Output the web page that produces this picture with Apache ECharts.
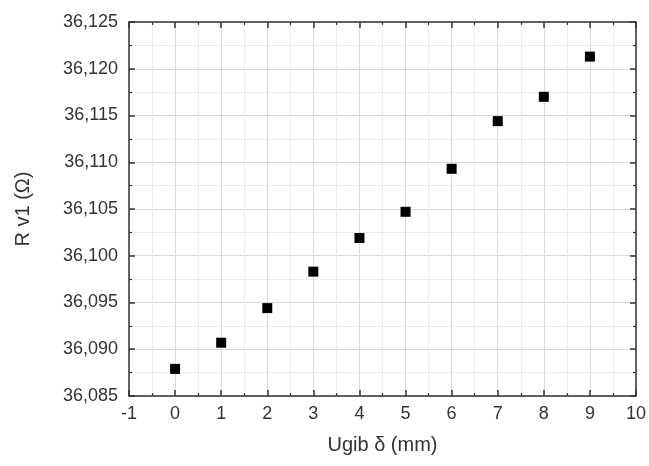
<!DOCTYPE html>
<html>
<head>
<meta charset="utf-8">
<script src="https://cdn.jsdelivr.net/npm/echarts@6/dist/echarts.min.js"></script>
<style>
html, body { margin: 0; padding: 0; background: #fff; }
#Chart { width: 649px; height: 466px; }
</style>
</head>
<body>
<div id="Chart"></div>
<script>
var xValues = [0, 1, 2, 3, 4, 5, 6, 7, 8, 9];
var rValues = [36.0879, 36.0907, 36.0944, 36.0983, 36.1019, 36.1047, 36.1093, 36.1144, 36.1170, 36.1213];
var xTitle = 'Ugib \u03b4 (mm)';
var yTitle = 'R v1 (\u03a9)';

var Chart = echarts.init(document.getElementById('Chart'));

var axisColor = '#333';
var fontFamily = 'Liberation Sans, Arial, sans-serif';

function commaLabel(v) {
    return v.toFixed(3).replace('.', ',');
}

var points = xValues.map(function (x, i) { return [x, rValues[i]]; });

var ScatterOption = {
    animation: false,
    backgroundColor: '#fff',
    grid: {
        left: 129,
        top: 22,
        right: 12,
        bottom: 70
    },
    xAxis: [{
        type: 'value',
        min: -1,
        max: 10,
        interval: 1,
        name: xTitle,
        nameLocation: 'middle',
        nameGap: 39,
        nameTextStyle: { color: axisColor, fontSize: 20, fontFamily: fontFamily },
        axisLine: { onZero: false, lineStyle: { color: axisColor, width: 1.5 } },
        axisTick: { inside: true, length: 6, lineStyle: { color: axisColor, width: 1.5 } },
        minorTick: { show: true, splitNumber: 2, length: 3, lineStyle: { color: axisColor, width: 1.2 } },
        axisLabel: { color: axisColor, fontSize: 18, fontFamily: fontFamily, margin: 9 },
        splitLine: { show: true, lineStyle: { color: '#d9d9d9', width: 1 } },
        minorSplitLine: { show: true, lineStyle: { color: '#ececec', width: 1 } }
    }, {
        type: 'value',
        position: 'top',
        min: -1,
        max: 10,
        interval: 1,
        axisLine: { onZero: false, lineStyle: { color: axisColor, width: 1.5 } },
        axisTick: { inside: true, length: 6, lineStyle: { color: axisColor, width: 1.5 } },
        minorTick: { show: true, splitNumber: 2, length: 3, lineStyle: { color: axisColor, width: 1.2 } },
        axisLabel: { show: false },
        splitLine: { show: false }
    }],
    yAxis: [{
        type: 'value',
        min: 36.085,
        max: 36.125,
        interval: 0.005,
        name: yTitle,
        nameLocation: 'middle',
        nameGap: 96,
        nameTextStyle: { color: axisColor, fontSize: 20, fontFamily: fontFamily },
        axisLine: { onZero: false, lineStyle: { color: axisColor, width: 1.5 } },
        axisTick: { inside: true, length: 6, lineStyle: { color: axisColor, width: 1.5 } },
        minorTick: { show: true, splitNumber: 2, length: 3, lineStyle: { color: axisColor, width: 1.2 } },
        axisLabel: { color: axisColor, fontSize: 18, fontFamily: fontFamily, margin: 11, formatter: commaLabel },
        splitLine: { show: true, lineStyle: { color: '#d9d9d9', width: 1 } },
        minorSplitLine: { show: true, lineStyle: { color: '#ececec', width: 1 } }
    }, {
        type: 'value',
        position: 'right',
        min: 36.085,
        max: 36.125,
        interval: 0.005,
        axisLine: { onZero: false, lineStyle: { color: axisColor, width: 1.5 } },
        axisTick: { inside: true, length: 6, lineStyle: { color: axisColor, width: 1.5 } },
        minorTick: { show: true, splitNumber: 2, length: 3, lineStyle: { color: axisColor, width: 1.2 } },
        axisLabel: { show: false },
        splitLine: { show: false }
    }],
    series: [{
        name: 'R v1',
        type: 'scatter',
        symbol: 'rect',
        symbolSize: 10,
        itemStyle: { color: '#000', opacity: 1 },
        data: points
    }]
};

Chart.setOption(ScatterOption);

window.addEventListener("resize", function () {
    Chart.resize();
});
</script>
</body>
</html>
